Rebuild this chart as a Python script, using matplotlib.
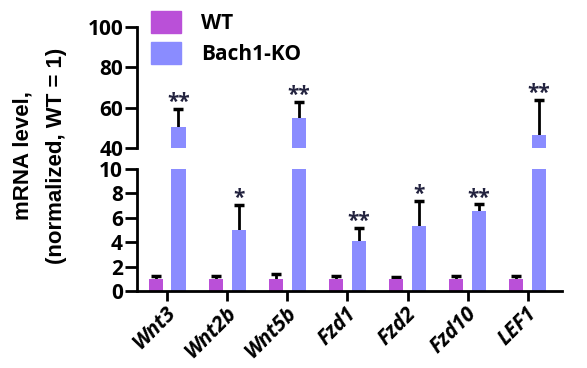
import numpy as np
import matplotlib
matplotlib.use('Agg')
from matplotlib import pyplot as plt
from matplotlib.patches import Patch
from matplotlib.transforms import ScaledTranslation

genes = ['Wnt3', 'Wnt2b', 'Wnt5b', 'Fzd1', 'Fzd2', 'Fzd10', 'LEF1']
wt_mean = [1.0, 1.0, 1.0, 1.0, 1.0, 1.0, 1.0]
wt_err = [0.25, 0.2, 0.4, 0.2, 0.15, 0.25, 0.25]
ko_mean = [50.5, 5.0, 55.0, 4.1, 5.35, 6.55, 46.5]
ko_err = [9.0, 2.05, 8.0, 1.1, 2.05, 0.55, 17.5]
stars = ['**', '*', '**', '**', '*', '**', '**']

wt_color = '#BA50D8'
ko_color = '#8A8CFF'
star_color = '#23233F'

plt.rcParams['font.family'] = ['Open Sans', 'DejaVu Sans']
plt.rcParams['font.weight'] = 'bold'

fig = plt.figure(figsize=(5.87, 3.68), dpi=100)
left, width = 137 / 587, 425 / 587
ax_top = fig.add_axes([left, 1 - 148 / 368, width, 121 / 368])
ax_bot = fig.add_axes([left, 1 - 291 / 368, width, 122 / 368])

x = np.arange(len(genes))
bw = 0.235
off = 0.19


def upper_err(ax, xs, means, errs):
    # only the upper half of the error bar, drawn behind the bars
    tops = np.array(means) + np.array(errs)
    ax.vlines(xs, means, tops, color='black', lw=2, zorder=1)
    ax.plot(xs, tops, ls='none', marker='_', ms=7, mew=2.5, color='black', zorder=1)


for ax in (ax_top, ax_bot):
    ax.bar(x - off, wt_mean, bw, color=wt_color, zorder=2)
    ax.bar(x + off, ko_mean, bw, color=ko_color, zorder=2)
    upper_err(ax, x + off, ko_mean, ko_err)
    ax.set_xlim(-0.5, 6.57)
    for s in ('top', 'right'):
        ax.spines[s].set_visible(False)
    ax.spines['left'].set_linewidth(2)
    ax.tick_params(axis='y', width=2, length=8.5, labelsize=15, pad=1.5)

upper_err(ax_bot, x - off, wt_mean, wt_err)

ax_top.set_ylim(40, 100)
ax_top.set_yticks([40, 60, 80, 100])
ax_top.spines['bottom'].set_visible(False)
ax_top.set_xticks([])

ax_bot.set_ylim(0, 10)
ax_bot.set_yticks(range(0, 11, 2))
ax_bot.spines['bottom'].set_linewidth(2)
ax_bot.set_xticks(x)
ax_bot.set_xticklabels(genes, rotation=45, ha='right', va='center',
                       rotation_mode='anchor', fontstyle='italic', fontsize=15)
ax_bot.tick_params(axis='x', width=2, length=7, pad=7)
shift = ScaledTranslation(4 / 72, 0, fig.dpi_scale_trans)
for lab in ax_bot.get_xticklabels():
    lab.set_transform(lab.get_transform() + shift)

for i, (m, e, s) in enumerate(zip(ko_mean, ko_err, stars)):
    ax = ax_top if m > 10 else ax_bot
    ax.annotate(s, (x[i] + off, m + e), xytext=(0, -3), textcoords='offset points',
                ha='center', va='bottom', fontsize=15, color=star_color)

handles = [Patch(color=wt_color, label='WT'), Patch(color=ko_color, label='Bach1-KO')]
fig.legend(handles=handles, loc='upper left', bbox_to_anchor=(132 / 587, 1.02),
           frameon=False, fontsize=15, handlelength=1.45, handleheight=1.2,
           labelspacing=0.4, handletextpad=0.95)

fig.text(0.039, 0.577, 'mRNA level,', rotation=90, ha='center', va='center',
         fontsize=16, family='Liberation Sans', weight='bold')
fig.text(0.097, 0.577, '(normalized, WT = 1)', rotation=90, ha='center', va='center',
         fontsize=16, family='Liberation Sans', weight='bold')

fig.savefig('out.png', dpi=100)
